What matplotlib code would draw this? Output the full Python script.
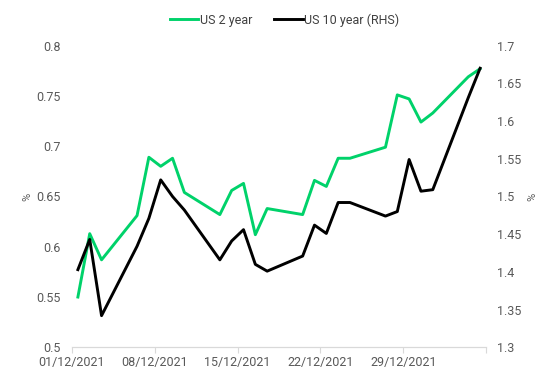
import numpy as np
import matplotlib
matplotlib.use("Agg")
import matplotlib.pyplot as plt

plt.rcParams['font.family'] = ['Roboto', 'DejaVu Sans']

# day offset from 01/12/2021
days = [0, 1, 2, 5, 6, 7, 8, 9, 12, 13, 14, 15, 16, 19, 20, 21, 22, 23,
        26, 27, 28, 29, 30, 33, 34]
us2 = [0.550, 0.613, 0.587, 0.631, 0.689, 0.680, 0.688, 0.654, 0.632, 0.656,
       0.663, 0.612, 0.638, 0.632, 0.666, 0.660, 0.688, 0.688, 0.699, 0.751,
       0.747, 0.724, 0.733, 0.769, 0.777]
us10 = [1.403, 1.443, 1.342, 1.434, 1.471, 1.522, 1.500, 1.482, 1.416, 1.441,
        1.456, 1.410, 1.401, 1.421, 1.462, 1.451, 1.492, 1.492, 1.474, 1.480,
        1.549, 1.507, 1.509, 1.631, 1.670]
tick_labels = ["01/12/2021", "08/12/2021", "15/12/2021", "22/12/2021", "29/12/2021", ""]

grey = "#595959"
fig = plt.figure(figsize=(5.58, 3.79), dpi=100)
ax = fig.add_axes([0.129, 0.0836, 0.742, 0.796])
ax2 = ax.twinx()

l1, = ax.plot(days, us2, color="#00D26A", lw=2.1, label="US 2 year")
l2, = ax2.plot(days, us10, color="black", lw=2.1, label="US 10 year (RHS)")

ax.set_xlim(-0.5, 34.5)
ax.set_xticks(np.arange(-0.5, 35, 7))
ax.set_xticklabels(tick_labels)
ax.set_ylim(0.5, 0.8)
ax.set_yticks(np.arange(0.5, 0.801, 0.05))
ax.set_yticklabels(["0.5", "0.55", "0.6", "0.65", "0.7", "0.75", "0.8"])
ax2.set_ylim(1.3, 1.7)
ax2.set_yticks(np.arange(1.3, 1.701, 0.05))
ax2.set_yticklabels(["1.3", "1.35", "1.4", "1.45", "1.5", "1.55", "1.6", "1.65", "1.7"])

for a in (ax, ax2):
    for s in ("top", "left", "right"):
        a.spines[s].set_visible(False)
    a.spines["bottom"].set_color("#d9d9d9")
    a.tick_params(axis="y", length=0, labelsize=9, labelcolor=grey, pad=8)
ax.tick_params(axis="x", length=4, color="#d9d9d9", labelsize=9, labelcolor=grey, pad=2)

ax.set_ylabel("%", color=grey, fontsize=8, labelpad=3)
ax2.set_ylabel("%", color=grey, fontsize=8, labelpad=4)

fig.legend(handles=[l1, l2], loc="upper center", bbox_to_anchor=(0.51, 0.995),
           ncol=2, frameon=False, fontsize=9, handlelength=2.3,
           handletextpad=0.1, columnspacing=1.8, labelcolor="#404040")

fig.savefig("out.png", dpi=100)
